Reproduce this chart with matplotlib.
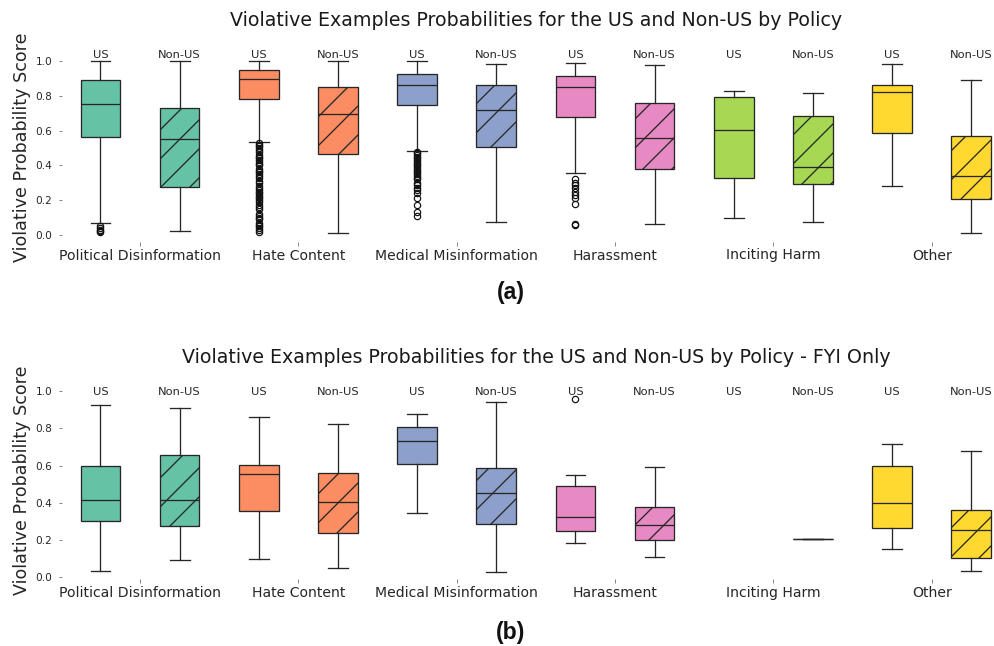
import matplotlib
matplotlib.use("Agg")
import matplotlib.pyplot as plt

DPI = 174
W, H = 995, 646
PT = 72.0 / DPI


def px(v):
    return v * PT


policies = ["Political Disinformation", "Hate Content", "Medical Misinformation",
            "Harassment", "Inciting Harm", "Other"]
groups = ["US", "Non-US"]
colors = ["#66c2a5", "#fc8d62", "#8da0cb", "#e78ac3", "#a6d854", "#ffd92f"]

# ---------- panel (a): all examples ----------
a_us_whislo = [0.071, 0.534, 0.482, 0.356, 0.096, 0.279]
a_us_q1 = [0.564, 0.784, 0.750, 0.681, 0.329, 0.587]
a_us_med = [0.752, 0.895, 0.861, 0.851, 0.606, 0.824]
a_us_q3 = [0.893, 0.951, 0.928, 0.916, 0.794, 0.864]
a_us_whishi = [1.000, 1.000, 1.000, 0.990, 0.828, 0.981]
a_us_fliers = [
    [0.05, 0.04, 0.03, 0.025, 0.02],
    [0.53, 0.52, 0.51, 0.50, 0.49, 0.48, 0.46, 0.45, 0.44, 0.43, 0.42, 0.41, 0.40,
     0.38, 0.37, 0.36, 0.35, 0.34, 0.33, 0.31, 0.30, 0.28, 0.27, 0.26, 0.25, 0.24,
     0.23, 0.22, 0.21, 0.20, 0.19, 0.17, 0.16, 0.15, 0.12, 0.11, 0.10, 0.09, 0.07,
     0.06, 0.05, 0.04, 0.03, 0.02],
    [0.48, 0.47, 0.46, 0.45, 0.44, 0.43, 0.42, 0.41, 0.40, 0.39, 0.38, 0.37, 0.36,
     0.35, 0.34, 0.33, 0.32, 0.30, 0.29, 0.27, 0.26, 0.24, 0.21, 0.17, 0.134, 0.109],
    [0.32, 0.30, 0.285, 0.27, 0.25, 0.23, 0.21, 0.18, 0.063, 0.055],
    [],
    [],
]
a_non_whislo = [0.021, 0.013, 0.077, 0.065, 0.077, 0.011]
a_non_q1 = [0.277, 0.465, 0.505, 0.377, 0.291, 0.207]
a_non_med = [0.553, 0.694, 0.717, 0.555, 0.392, 0.337]
a_non_q3 = [0.730, 0.851, 0.864, 0.761, 0.683, 0.568]
a_non_whishi = [1.000, 1.000, 0.985, 0.975, 0.817, 0.893]

# ---------- panel (b): FYI only (None = no data) ----------
b_us_whislo = [0.036, 0.099, 0.343, 0.185, None, 0.151]
b_us_q1 = [0.305, 0.354, 0.607, 0.250, None, 0.266]
b_us_med = [0.417, 0.557, 0.733, 0.323, None, 0.397]
b_us_q3 = [0.600, 0.605, 0.808, 0.492, None, 0.596]
b_us_whishi = [0.927, 0.862, 0.879, 0.550, None, 0.718]
b_us_fliers = [[], [], [], [0.956], [], []]
b_non_whislo = [0.095, 0.052, 0.031, 0.110, 0.207, 0.036]
b_non_q1 = [0.277, 0.237, 0.284, 0.203, 0.207, 0.106]
b_non_med = [0.413, 0.402, 0.451, 0.282, 0.207, 0.255]
b_non_q3 = [0.655, 0.562, 0.585, 0.378, 0.207, 0.359]
b_non_whishi = [0.908, 0.821, 0.943, 0.591, 0.207, 0.677]

titles = ["Violative Examples Probabilities for the US and Non-US by Policy",
          "Violative Examples Probabilities for the US and Non-US by Policy - FYI Only"]
panel_tags = ["(a)", "(b)"]
yticks = [0.0, 0.2, 0.4, 0.6, 0.8, 1.0]

LINE = "#262626"
TXT = "#262626"
plt.rcParams["hatch.linewidth"] = px(1.3)


def make_stats(whislo, q1, med, q3, whishi, fliers=None):
    out = []
    for i in range(len(med)):
        if med[i] is None:
            out.append(None)
            continue
        out.append(dict(whislo=whislo[i], q1=q1[i], med=med[i], q3=q3[i],
                        whishi=whishi[i], fliers=(fliers[i] if fliers else [])))
    return out


fig = plt.figure(figsize=(W / DPI, H / DPI), dpi=DPI)

x_left = -0.493
x_right = 5.40
ax_l = 62 / W
ax_w = (W - 62) / W

panels = [
    dict(stats=[make_stats(a_us_whislo, a_us_q1, a_us_med, a_us_q3, a_us_whishi, a_us_fliers),
                make_stats(a_non_whislo, a_non_q1, a_non_med, a_non_q3, a_non_whishi)],
         ylim=(-0.04, 1.05), rect=(ax_l, 1 - 242 / H, ax_w, (242 - 52.3) / H),
         label_y=1.035, title_y=20, tag_y=293),
    dict(stats=[make_stats(b_us_whislo, b_us_q1, b_us_med, b_us_q3, b_us_whishi, b_us_fliers),
                make_stats(b_non_whislo, b_non_q1, b_non_med, b_non_q3, b_non_whishi)],
         ylim=(-0.01, 1.05), rect=(ax_l, 1 - 579.2 / H, ax_w, (579.2 - 381.7) / H),
         label_y=0.997, title_y=357, tag_y=632),
]

offsets = [-0.25, 0.25]
lw = px(1.3)

for p, panel in enumerate(panels):
    ax = fig.add_axes(panel["rect"])
    for gi, g in enumerate(groups):
        for i in range(len(policies)):
            s = panel["stats"][gi][i]
            pos = i + offsets[gi]
            ax.text(pos, panel["label_y"], g, ha="center", va="center",
                    fontsize=px(11.5), color=TXT)
            if s is None:
                continue
            b = ax.bxp([s], positions=[pos], widths=0.25, patch_artist=True,
                       manage_ticks=False,
                       boxprops=dict(linewidth=lw, edgecolor=LINE),
                       whiskerprops=dict(linewidth=lw, color=LINE),
                       capprops=dict(linewidth=lw, color=LINE),
                       medianprops=dict(linewidth=lw, color=LINE),
                       flierprops=dict(marker="o", markerfacecolor="none",
                                       markeredgecolor="#111111", markersize=px(6.3),
                                       markeredgewidth=px(1.2)))
            box = b["boxes"][0]
            box.set_facecolor(colors[i])
            if gi == 1:
                box.set_hatch("//")
    ax.set_xlim(x_left, x_right)
    ax.set_ylim(*panel["ylim"])
    ax.set_xticks(range(len(policies)))
    ax.set_xticklabels(policies, fontsize=px(14), color=TXT)
    ax.set_yticks(yticks)
    ax.set_yticklabels([f"{v:.1f}" for v in yticks], fontsize=px(10.5), color=TXT)
    ax.tick_params(axis="x", length=px(3.5), width=px(1), color="#888888", pad=px(3))
    ax.tick_params(axis="y", length=px(3.5), width=px(1), color="#888888", pad=px(6))
    for sp in ax.spines.values():
        sp.set_visible(False)
    ax.set_facecolor("white")
    ax.set_ylabel("Violative Probability Score", fontsize=px(17.5), color=TXT)
    ax.yaxis.set_label_coords(-31 / (W - 62), 0.5)
    fig.text(536 / W, 1 - panel["title_y"] / H, titles[p], ha="center", va="center",
             fontsize=px(19), color="#1a1a1a")
    fig.text(511 / W, 1 - panel["tag_y"] / H, panel_tags[p], ha="center", va="center",
             fontsize=px(23), fontweight="bold", family="Liberation Sans", color="#111111")

fig.savefig("out.png", dpi=DPI)
